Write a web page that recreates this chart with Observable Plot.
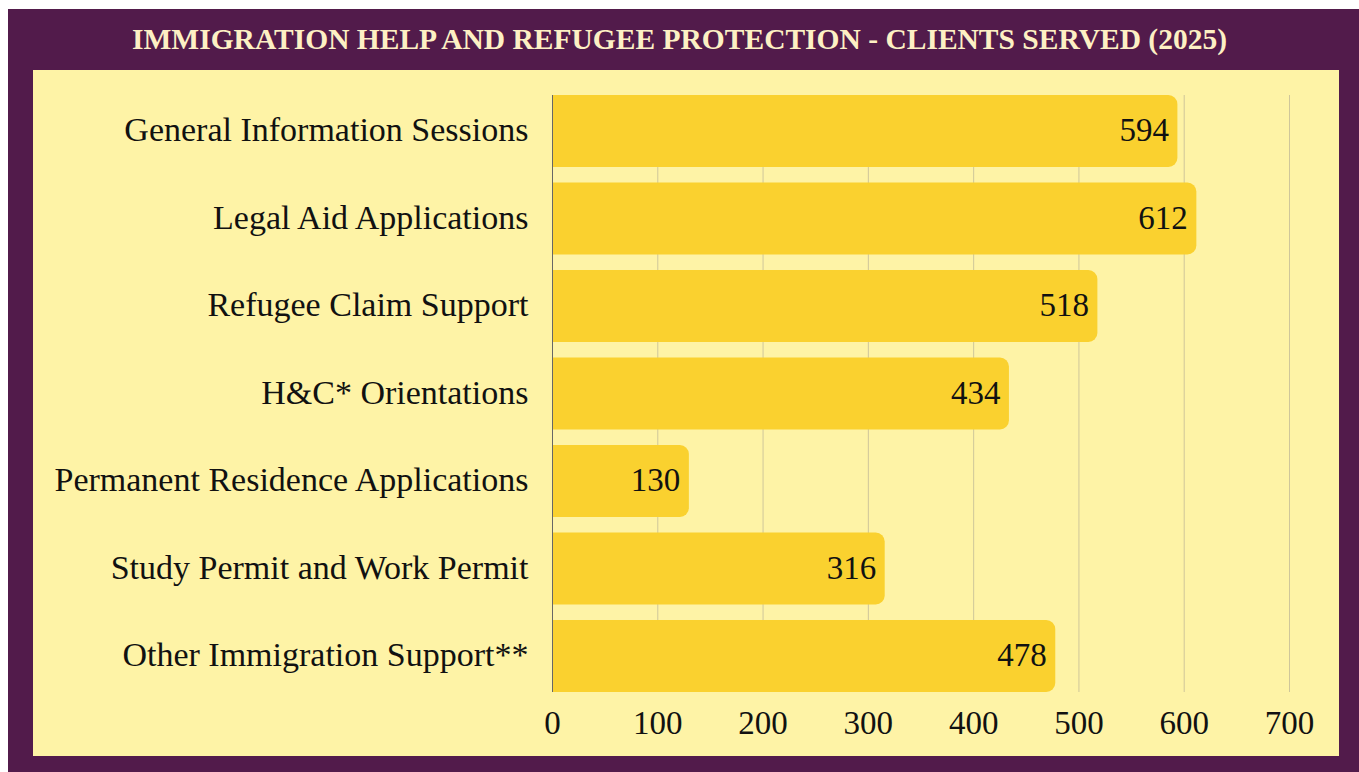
<!DOCTYPE html>
<html>
<head>
<meta charset="utf-8">
<script src="https://cdn.jsdelivr.net/npm/d3@7"></script>
<script src="https://cdn.jsdelivr.net/npm/@observablehq/plot@0.6"></script>
<style>
  html, body { margin: 0; padding: 0; background: #ffffff; width: 1359px; height: 772px; overflow: hidden; }
  #outer { position: absolute; left: 8px; top: 9px; width: 1351px; height: 763px; background: #521b4b; }
  #title { position: absolute; left: 0; top: 9px; width: 1359px; height: 61px; line-height: 61px; text-align: center;
           font-family: "Liberation Serif", "Times New Roman", serif; font-weight: bold; font-size: 29.5px; color: #fdf0c4; margin: 0; }
  #panel { position: absolute; left: 33px; top: 70px; width: 1306px; height: 686px; background: #fef3a6; }
  #panel svg { display: block; }
</style>
</head>
<body>
<div id="outer"></div>
<h1 id="title">IMMIGRATION HELP AND REFUGEE PROTECTION - CLIENTS SERVED (2025)</h1>
<div id="panel"></div>
<script>
const categories = [
  "General Information Sessions",
  "Legal Aid Applications",
  "Refugee Claim Support",
  "H&C* Orientations",
  "Permanent Residence Applications",
  "Study Permit and Work Permit",
  "Other Immigration Support**"
];
const clients = [594, 612, 518, 434, 130, 316, 478];
const xTicks = [0, 100, 200, 300, 400, 500, 600, 700];

const data = categories.map((c, i) => ({category: c, value: clients[i]}));

const chart = Plot.plot({
  width: 1306,
  height: 686,
  marginLeft: 519,
  marginRight: 50,
  marginTop: 25,
  marginBottom: 64,
  style: {
    background: "transparent",
    fontFamily: "'Liberation Serif', 'Times New Roman', serif",
    fontSize: "33px",
    color: "#111111"
  },
  x: { domain: [0, 700], ticks: xTicks, grid: false, label: null },
  y: { domain: categories, label: null, paddingInner: 0.177, paddingOuter: 0, round: false },
  marks: [
    Plot.gridX(xTicks, { stroke: "#cfc69a", strokeOpacity: 1, strokeWidth: 1 }),
    // rounded bars; the rounded left end lies left of zero and is clipped to the frame
    Plot.barX(data, { y: "category", x1: -12, x2: "value", fill: "#fad12f", rx: 9, clip: true }),
    Plot.ruleX([0], { stroke: "#666666", strokeWidth: 1 }),
    Plot.text(data, { y: "category", x: "value", text: d => String(d.value), textAnchor: "end", dx: -9, dy: -1, fill: "#111111", fontSize: 33 }),
    Plot.axisX(xTicks, { tickSize: 0, tickPadding: 18, fontSize: 33, fill: "#111111", tickFormat: d => String(d) }),
    Plot.axisY({ tickSize: 0, tickPadding: 24, fontSize: 34, dy: -1, fill: "#111111" })
  ]
});
document.getElementById("panel").appendChild(chart);
</script>
</body>
</html>
